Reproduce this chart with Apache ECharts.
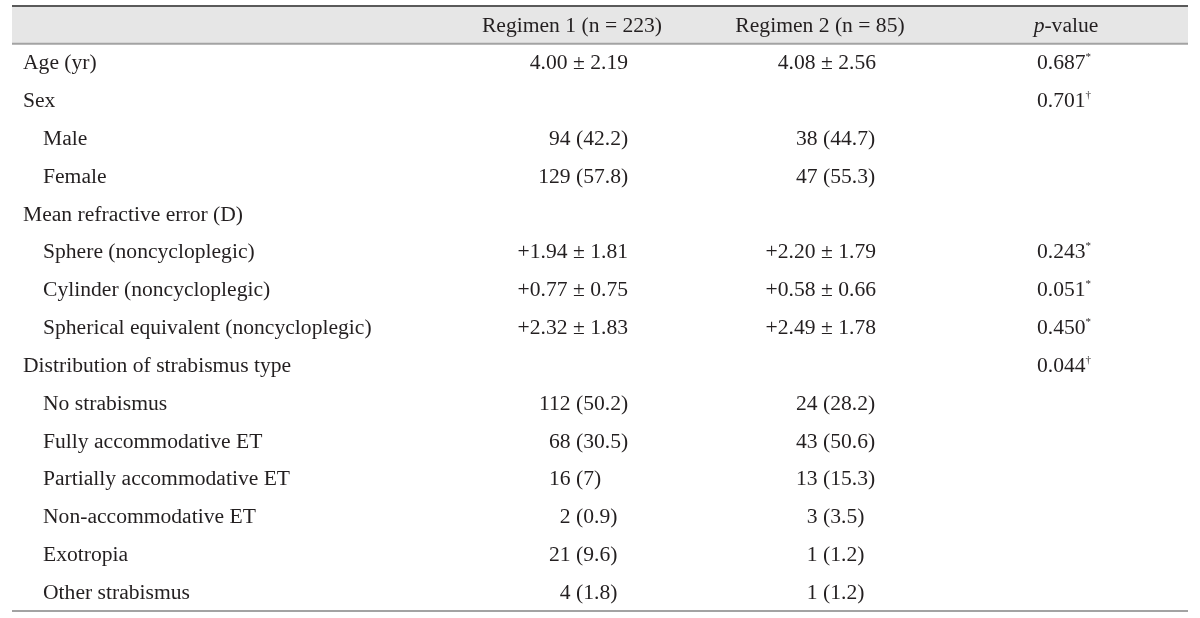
<!DOCTYPE html>
<html>
<head>
<meta charset="utf-8">
<script src="https://cdn.jsdelivr.net/npm/echarts@6/dist/echarts.min.js"></script>
<style>
  html, body { margin: 0; padding: 0; background: #fff; }
  #main { width: 1200px; height: 618px; }
</style>
</head>
<body>
<div id="main"></div>
<script>
// table contents
const headers = ['', 'Regimen 1 (n = 223)', 'Regimen 2 (n = 85)', 'p-value']
const rowLabels = [
  'Age (yr)', 'Sex', 'Male', 'Female', 'Mean refractive error (D)',
  'Sphere (noncycloplegic)', 'Cylinder (noncycloplegic)', 'Spherical equivalent (noncycloplegic)',
  'Distribution of strabismus type', 'No strabismus', 'Fully accommodative ET',
  'Partially accommodative ET', 'Non-accommodative ET', 'Exotropia', 'Other strabismus'
]
const rowLevel = [0, 0, 1, 1, 0, 1, 1, 1, 0, 1, 1, 1, 1, 1, 1]
const regimen1 = [
  '4.00 ± 2.19', '', '94 (42.2)', '129 (57.8)', '',
  '+1.94 ± 1.81', '+0.77 ± 0.75', '+2.32 ± 1.83',
  '', '112 (50.2)', '68 (30.5)', '16 (7)', '2 (0.9)', '21 (9.6)', '4 (1.8)'
]
const regimen2 = [
  '4.08 ± 2.56', '', '38 (44.7)', '47 (55.3)', '',
  '+2.20 ± 1.79', '+0.58 ± 0.66', '+2.49 ± 1.78',
  '', '24 (28.2)', '43 (50.6)', '13 (15.3)', '3 (3.5)', '1 (1.2)', '1 (1.2)'
]
const pValues = ['0.687', '0.701', '', '', '', '0.243', '0.051', '0.450', '0.044', '', '', '', '', '', '']
const pMarks = ['*', '†', '', '', '', '*', '*', '*', '†', '', '', '', '', '', '']

// layout
const W = 1200, H = 618
const TOP = 6, BOTTOM = 7, LEFT_EDGE = 12, RIGHT_EDGE = 1188
const rowH = (H - TOP - BOTTOM) / (rowLabels.length + 1)
const labelX = [23, 43]
const headX = [0, 572, 820, 1066]
const parenX = [0, 576, 823]   // "n (%)" cells line up on the bracket
const rightX = [0, 628, 876]   // "mean ± SD" cells are right aligned
const pX = 1064
const FS = 21.6
const font = '"Liberation Serif", "Times New Roman", serif'
const ink = '#231f20'

const rows = ['header'].concat(rowLabels)
const cells = []
headers.forEach((h, c) => {
  if (h) cells.push([headX[c], 0, c === 3 ? '{i|p}-value' : h, 'center'])
})
rowLabels.forEach((lab, r) => {
  cells.push([labelX[rowLevel[r]], r + 1, lab, 'left'])
  ;[regimen1, regimen2].forEach((col, k) => {
    const v = col[r]
    if (!v) return
    if (v.indexOf('(') >= 0) cells.push([parenX[k + 1], r + 1, v, 'paren'])
    else cells.push([rightX[k + 1], r + 1, v, 'right'])
  })
  if (pValues[r]) cells.push([pX, r + 1, pValues[r] + '{s|' + pMarks[r] + '}', 'center'])
})

const rich = {
  i: { fontStyle: 'italic', fontSize: FS, fontFamily: font, fill: ink },
  s: { fontSize: 11, fontFamily: font, fill: ink, verticalAlign: 'top', lineHeight: 24 }
}
function txt(x, y, s, align) {
  return {
    type: 'text', x: x, y: y,
    style: { text: s, fill: ink, font: FS + 'px ' + font, align: align, verticalAlign: 'middle', rich: rich }
  }
}

const chart = echarts.init(document.getElementById('main'))
chart.setOption({
  animation: false,
  backgroundColor: '#fff',
  grid: { left: 0, right: 0, top: TOP, bottom: BOTTOM },
  xAxis: { type: 'value', min: 0, max: W, show: false },
  yAxis: { type: 'category', data: rows, inverse: true, show: false },
  graphic: [
    { type: 'rect', shape: { x: LEFT_EDGE, y: TOP, width: RIGHT_EDGE - LEFT_EDGE, height: rowH }, style: { fill: '#e6e6e6' }, z: 0 },
    { type: 'line', shape: { x1: LEFT_EDGE, y1: TOP, x2: RIGHT_EDGE, y2: TOP }, style: { stroke: '#5a5a5a', lineWidth: 2 }, z: 1 },
    { type: 'line', shape: { x1: LEFT_EDGE, y1: TOP + rowH, x2: RIGHT_EDGE, y2: TOP + rowH }, style: { stroke: '#a3a3a3', lineWidth: 2 }, z: 1 },
    { type: 'line', shape: { x1: LEFT_EDGE, y1: H - BOTTOM, x2: RIGHT_EDGE, y2: H - BOTTOM }, style: { stroke: '#a3a3a3', lineWidth: 2 }, z: 1 }
  ],
  series: [{
    type: 'custom',
    coordinateSystem: 'cartesian2d',
    data: cells,
    z: 5,
    renderItem: function (params, api) {
      const item = cells[params.dataIndex]
      const pt = api.coord([item[0], item[1]])
      const y = pt[1] + 1
      if (item[3] === 'paren') {
        const at = item[2].indexOf('(')
        return {
          type: 'group',
          children: [
            txt(pt[0] - FS * 0.25, y, item[2].slice(0, at).trim(), 'right'),
            txt(pt[0], y, item[2].slice(at), 'left')
          ]
        }
      }
      return txt(pt[0], y, item[2], item[3])
    }
  }]
})
</script>
</body>
</html>
